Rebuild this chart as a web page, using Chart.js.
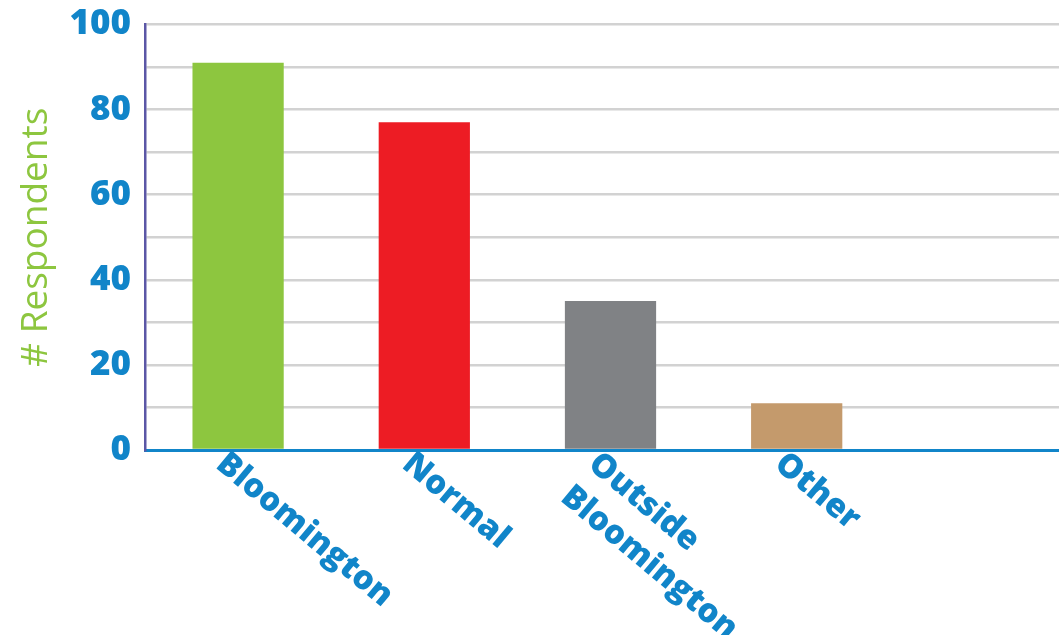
<!DOCTYPE html>
<html>
<head>
<meta charset="utf-8">
<script src="https://cdn.jsdelivr.net/npm/chart.js@4"></script>
<style>
  html, body { margin: 0; padding: 0; background: #fff; overflow: hidden; }
  #wrap { width: 1076px; height: 635px; position: relative; }
</style>
</head>
<body>
<div id="wrap"><canvas id="respChart"></canvas></div>
<script>
// categories (last slot is empty in the original)
const categories = [['Bloomington'], ['Normal'], ['Outside', 'Bloomington'], ['Other'], ['']];
const respondents = [91, 77, 35, 11, null];
const barColors = ['#8dc63f', '#ed1c24', '#808285', '#c49a6c', '#ffffff'];
const yTickLabels = [0, 20, 40, 60, 80, 100];

const blue = '#1185c9';

// draws the slanted category names under the bars
const slantLabels = {
    id: 'slantLabels',
    afterDraw(chart) {
        const ctx = chart.ctx;
        const xs = chart.scales.x;
        const angle = 40 * Math.PI / 180;
        ctx.save();
        ctx.fillStyle = blue;
        ctx.font = '800 33px "Open Sans"';
        ctx.textAlign = 'left';
        ctx.textBaseline = 'top';
        categories.forEach((lines, i) => {
            const x = xs.getPixelForValue(i) - 7;
            const y = xs.top - 3;
            ctx.save();
            ctx.translate(x, y);
            ctx.rotate(angle);
            lines.forEach((line, j) => {
                ctx.fillText(line, 0, j * 43);
            });
            ctx.restore();
        });
        ctx.restore();
    }
};

let chart;

function initializeChart() {
    const ctx = document.getElementById('respChart').getContext('2d');
    chart = new Chart(ctx, {
        type: 'bar',
        data: {
            labels: categories,
            datasets: [{
                data: respondents,
                backgroundColor: barColors,
                borderWidth: 0,
                barPercentage: 0.49,
                categoryPercentage: 1.0,
            }],
        },
        options: {
            responsive: true,
            maintainAspectRatio: false,
            animation: false,
            layout: { padding: { top: 24, right: 0, left: 0, bottom: 0 } },
            plugins: {
                legend: { display: false },
                tooltip: { enabled: false },
            },
            scales: {
                x: {
                    grid: { display: false },
                    border: { display: true, color: blue, width: 3 },
                    ticks: { display: false },
                    afterFit: (scale) => { scale.height = 185; },
                },
                y: {
                    min: 0,
                    max: 100,
                    ticks: {
                        stepSize: 10,
                        autoSkip: false,
                        padding: 14,
                        color: blue,
                        font: { family: 'Open Sans', size: 35, weight: 800, lineHeight: 0.6 },
                        callback: (v) => yTickLabels.includes(v) ? String(v) : '',
                    },
                    grid: {
                        color: (c) => c.tick && c.tick.value === 0 ? 'rgba(0,0,0,0)' : '#d2d2d2',
                        lineWidth: 2.5,
                        drawTicks: false,
                    },
                    border: { display: true, color: '#5b57a6', width: 2.5 },
                    title: {
                        display: true,
                        text: '# Respondents',
                        color: '#8dc63f',
                        font: { family: 'Open Sans', size: 37, weight: 500 },
                        padding: { top: 14, bottom: 0 },
                    },
                    afterFit: (scale) => { scale.width = 145; },
                },
            },
        },
        plugins: [slantLabels],
    });
}

window.addEventListener('load', () => {
    initializeChart();
});
</script>
</body>
</html>
